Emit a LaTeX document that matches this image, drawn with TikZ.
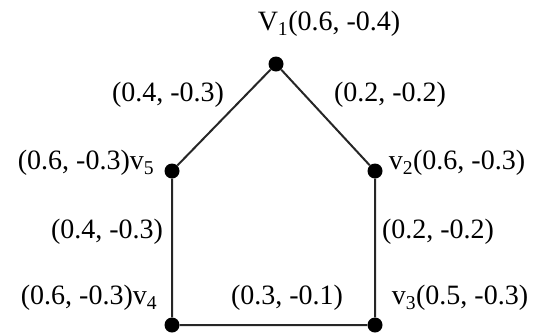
\documentclass[tikz,border=0pt]{standalone}
\usepackage{fontspec}
\setmainfont{Liberation Serif}
\usepackage{xcolor}

\begin{document}
\begin{tikzpicture}[x=1pt, y=-1pt,
    vtx/.style={circle, fill, inner sep=0pt, minimum size=15pt},
    lbl/.style={inner sep=0pt, font=\fontsize{28}{32}\selectfont},
    edg/.style={line width=2pt, draw=black!85}]
  \useasboundingbox (0,0) rectangle (538,333);
  % vertices
  \node[vtx] (v1) at (276,64) {};
  \node[vtx] (v2) at (375,171) {};
  \node[vtx] (v3) at (375,325) {};
  \node[vtx] (v4) at (172,325) {};
  \node[vtx] (v5) at (172,171) {};
  % edges
  \draw[edg] (v1) -- (v2) -- (v3) -- (v4) -- (v5) -- (v1);
  % vertex labels
  \node[lbl] (l1) at (329,24)  {V\textsubscript{1}(0.6, -0.4)};
  \node[lbl] (l2) at (457,163) {v\textsubscript{2}(0.6, -0.3)};
  \node[lbl] (l3) at (460,298) {v\textsubscript{3}(0.5, -0.3)};
  \node[lbl] (l4) at (89,298)  {(0.6, -0.3)v\textsubscript{4}};
  \node[lbl] (l5) at (86,163)  {(0.6, -0.3)v\textsubscript{5}};
  % edge labels
  \node[lbl] (e12) at (390,95)  {(0.2, -0.2)};
  \node[lbl] (e23) at (438,232) {(0.2, -0.2)};
  \node[lbl] (e34) at (287,298) {(0.3, -0.1)};
  \node[lbl] (e45) at (107,232) {(0.4, -0.3)};
  \node[lbl] (e51) at (168,95)  {(0.4, -0.3)};
\end{tikzpicture}
\end{document}
